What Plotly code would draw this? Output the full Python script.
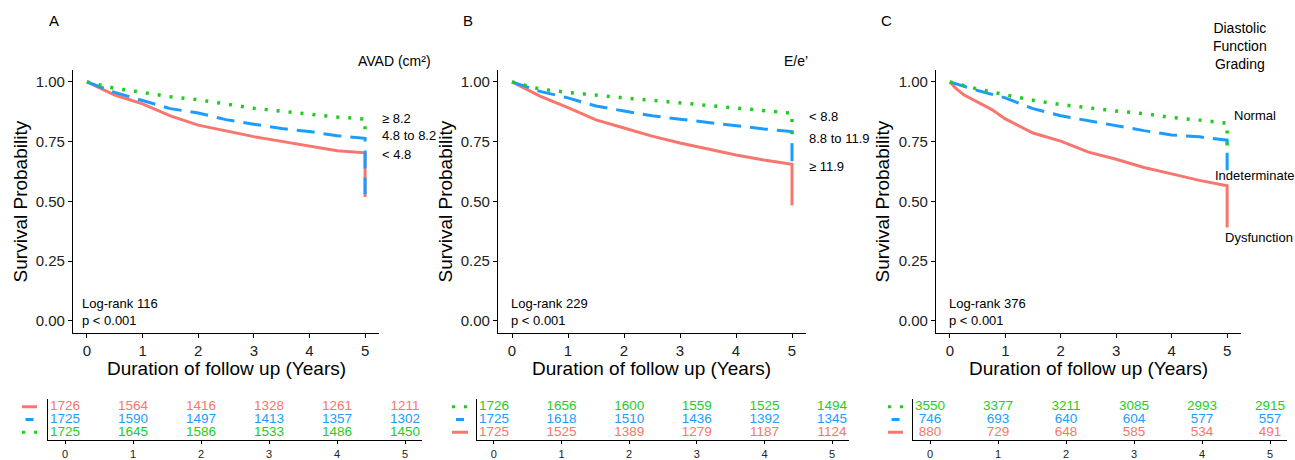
import plotly.graph_objects as go

W, H = 1295, 460
FONT = "Liberation Sans, Arial, sans-serif"
RED, BLUE, GREEN = "#F8766D", "#1C9CFF", "#1FCC1F"

# ---------------- data ----------------
t_half = [0, 0.5, 1, 1.5, 2, 2.5, 3, 3.5, 4, 4.5, 5, 5]
t_fine = [0, 0.1, 0.25, 0.5, 0.75, 1, 1.25, 1.5, 2, 2.5, 3, 3.5, 4, 4.5, 5, 5]

# Panel A: AVAD (cm2)
a_lt48 = [1.0, 0.945, 0.908, 0.858, 0.819, 0.795, 0.771, 0.751, 0.730, 0.712, 0.703, 0.518]
a_48to82 = [1.0, 0.956, 0.922, 0.888, 0.870, 0.842, 0.823, 0.805, 0.792, 0.775, 0.764, 0.530]
a_ge82 = [1.0, 0.973, 0.956, 0.938, 0.925, 0.908, 0.890, 0.877, 0.864, 0.853, 0.844, 0.795]

# Panel B: E/e'
b_ge119 = [1.0, 0.940, 0.892, 0.841, 0.807, 0.773, 0.744, 0.718, 0.694, 0.673, 0.655, 0.484]
b_88to119 = [1.0, 0.960, 0.933, 0.899, 0.878, 0.858, 0.844, 0.830, 0.817, 0.803, 0.792, 0.660]
b_lt88 = [1.0, 0.970, 0.956, 0.943, 0.933, 0.923, 0.912, 0.899, 0.888, 0.879, 0.869, 0.743]

# Panel C: Diastolic function grading
c_dysf = [1.0, 0.975, 0.946, 0.915, 0.885, 0.845, 0.815, 0.786, 0.752, 0.706, 0.676, 0.642, 0.615, 0.588, 0.565, 0.391]
c_indet = [1.0, 0.964, 0.933, 0.888, 0.858, 0.837, 0.819, 0.796, 0.778, 0.770, 0.756, 0.630]
c_norm = [1.0, 0.970, 0.946, 0.923, 0.905, 0.891, 0.878, 0.867, 0.851, 0.840, 0.827, 0.720]

risk_times = [0, 1, 2, 3, 4, 5]
risk_a_lt48 = [1726, 1564, 1416, 1328, 1261, 1211]
risk_a_48to82 = [1725, 1590, 1497, 1413, 1357, 1302]
risk_a_ge82 = [1725, 1645, 1586, 1533, 1486, 1450]
risk_b_lt88 = [1726, 1656, 1600, 1559, 1525, 1494]
risk_b_88to119 = [1725, 1618, 1510, 1436, 1392, 1345]
risk_b_ge119 = [1725, 1525, 1389, 1279, 1187, 1124]
risk_c_norm = [3550, 3377, 3211, 3085, 2993, 2915]
risk_c_indet = [746, 693, 640, 604, 577, 557]
risk_c_dysf = [880, 729, 648, 585, 534, 491]

y_ticks = [0, 0.25, 0.5, 0.75, 1.0]
x_ticks = [0, 1, 2, 3, 4, 5]

# ---------------- helpers ----------------
def px(x):
    return x / W

def py(y):
    return 1 - y / H

STYLE = {
    RED: dict(color=RED, width=3, dash="solid"),
    BLUE: dict(color=BLUE, width=3, dash="18px,9px"),
    GREEN: dict(color=GREEN, width=3.5, dash="3px,9px"),
}

panels = [
    dict(main_x=(73, 379), tab_x=(48, 422),
         curves=[(t_half, a_lt48, RED), (t_half, a_48to82, BLUE), (t_half, a_ge82, GREEN)],
         risk=[(risk_a_lt48, RED), (risk_a_48to82, BLUE), (risk_a_ge82, GREEN)],
         key_x=(22, 37)),
    dict(main_x=(498, 806), tab_x=(477, 849),
         curves=[(t_half, b_ge119, RED), (t_half, b_88to119, BLUE), (t_half, b_lt88, GREEN)],
         risk=[(risk_b_lt88, GREEN), (risk_b_88to119, BLUE), (risk_b_ge119, RED)],
         key_x=(452, 468)),
    dict(main_x=(936, 1241), tab_x=(913, 1287),
         curves=[(t_fine, c_dysf, RED), (t_half, c_indet, BLUE), (t_half, c_norm, GREEN)],
         risk=[(risk_c_norm, GREEN), (risk_c_indet, BLUE), (risk_c_dysf, RED)],
         key_x=(888, 903)),
]

fig = go.Figure()
layout = dict(
    width=W, height=H, margin=dict(l=0, r=0, t=0, b=0),
    paper_bgcolor="white", plot_bgcolor="white", showlegend=False,
    font=dict(family=FONT, color="black"),
)
shapes = []
annotations = []

main_ydom = [py(338), py(71)]
tab_ydom = [py(447), py(405)]
row_vals = [3, 2, 1]

for i, p in enumerate(panels):
    mx = 2 * i + 1
    tx = 2 * i + 2
    mxn = "" if mx == 1 else str(mx)
    txn = str(tx)
    # survival curves
    for t, s, c in p["curves"]:
        fig.add_trace(go.Scatter(x=t, y=s, mode="lines", line=STYLE[c],
                                 xaxis="x" + mxn, yaxis="y" + mxn, hoverinfo="skip"))
    # risk table numbers
    for (vals, c), r in zip(p["risk"], row_vals):
        fig.add_trace(go.Scatter(x=risk_times, y=[r] * len(vals), mode="text",
                                 text=[str(v) for v in vals],
                                 textfont=dict(color=c, size=13.5, family=FONT),
                                 textposition="middle center",
                                 xaxis="x" + txn, yaxis="y" + txn, hoverinfo="skip",
                                 cliponaxis=False))
        k0, k1 = p["key_x"]
        if c == BLUE:
            mid = (k0 + k1) / 2
            k0, k1 = mid - 4, mid + 4
        shapes.append(dict(type="line", xref="paper", yref="y" + txn,
                           x0=px(k0), x1=px(k1), y0=r, y1=r,
                           line=dict(color=c, width=3,
                                     dash="3px,9px" if c == GREEN else "solid")))

    layout["xaxis" + mxn] = dict(
        domain=[px(p["main_x"][0]), px(p["main_x"][1])], range=[-0.25, 5.25],
        anchor="y" + mxn, showline=True, linecolor="black", linewidth=1.3,
        ticks="outside", ticklen=4, tickcolor="black", tickwidth=1.2,
        tickvals=x_ticks, showgrid=False, zeroline=False,
        tickfont=dict(size=15, color="#222", family=FONT))
    layout["yaxis" + mxn] = dict(
        domain=main_ydom, range=[-0.05, 1.05], anchor="x" + mxn,
        showline=True, linecolor="black", linewidth=1.3,
        ticks="outside", ticklen=4, tickcolor="black", tickwidth=1.2,
        tickvals=y_ticks, tickformat=".2f", showgrid=False, zeroline=False,
        tickfont=dict(size=15, color="#222", family=FONT))
    layout["xaxis" + txn] = dict(
        domain=[px(p["tab_x"][0]), px(p["tab_x"][1])], range=[-0.25, 5.25],
        anchor="y" + txn, showline=True, linecolor="black", linewidth=1.3,
        ticks="outside", ticklen=3, tickcolor="black", tickwidth=1,
        tickvals=x_ticks, showgrid=False, zeroline=False,
        tickfont=dict(size=11, color="#222", family=FONT))
    layout["yaxis" + txn] = dict(
        domain=tab_ydom, range=[0.385, 3.615], anchor="x" + txn,
        showline=True, linecolor="black", linewidth=1.3,
        showticklabels=False, ticks="", showgrid=False, zeroline=False)

def ann(text, x, y, size=13, xanchor="left", yanchor="middle", angle=0, align="left"):
    annotations.append(dict(text=text, x=px(x), y=py(y), xref="paper", yref="paper",
                            xanchor=xanchor, yanchor=yanchor, showarrow=False,
                            textangle=angle, align=align,
                            font=dict(size=size, family=FONT, color="black")))

# panel letters
ann("A", 54, 21, 15, "center")
ann("B", 468, 21, 15, "center")
ann("C", 886, 21, 15, "center")

# legend titles
ann("AVAD (cm²)", 433, 62, 14, "right")
ann("E/e’", 810, 62, 14, "right")
ann("Diastolic<br>Function<br>Grading", 1240, 47, 14, "center", align="center")

# curve labels
ann("≥ 8.2", 380, 120)
ann("4.8 to 8.2", 380, 138)
ann("&lt; 4.8", 380, 157)
ann("&lt; 8.8", 807, 118)
ann("8.8 to 11.9", 807, 141)
ann("≥ 11.9", 807, 169)
ann("Normal", 1232, 117)
ann("Indeterminate", 1213, 178)
ann("Dysfunction", 1223, 241)

# log-rank
ann("Log-rank 116<br>p &lt; 0.001", 80, 316.5)
ann("Log-rank 229<br>p &lt; 0.001", 509, 316.5)
ann("Log-rank 376<br>p &lt; 0.001", 947, 316.5)

# axis titles
for yx, xc in [(20, 226), (445, 652), (882, 1088)]:
    ann("Survival Probability", yx, 204.5, 19, "center", angle=-90)
    ann("Duration of follow up (Years)", xc, 374, 19, "center")

layout["shapes"] = shapes
layout["annotations"] = annotations
fig.update_layout(**layout)
fig.write_html("out.html", config={"displayModeBar": False},
               post_script="document.body.style.margin='0';document.body.style.overflow='hidden';")
